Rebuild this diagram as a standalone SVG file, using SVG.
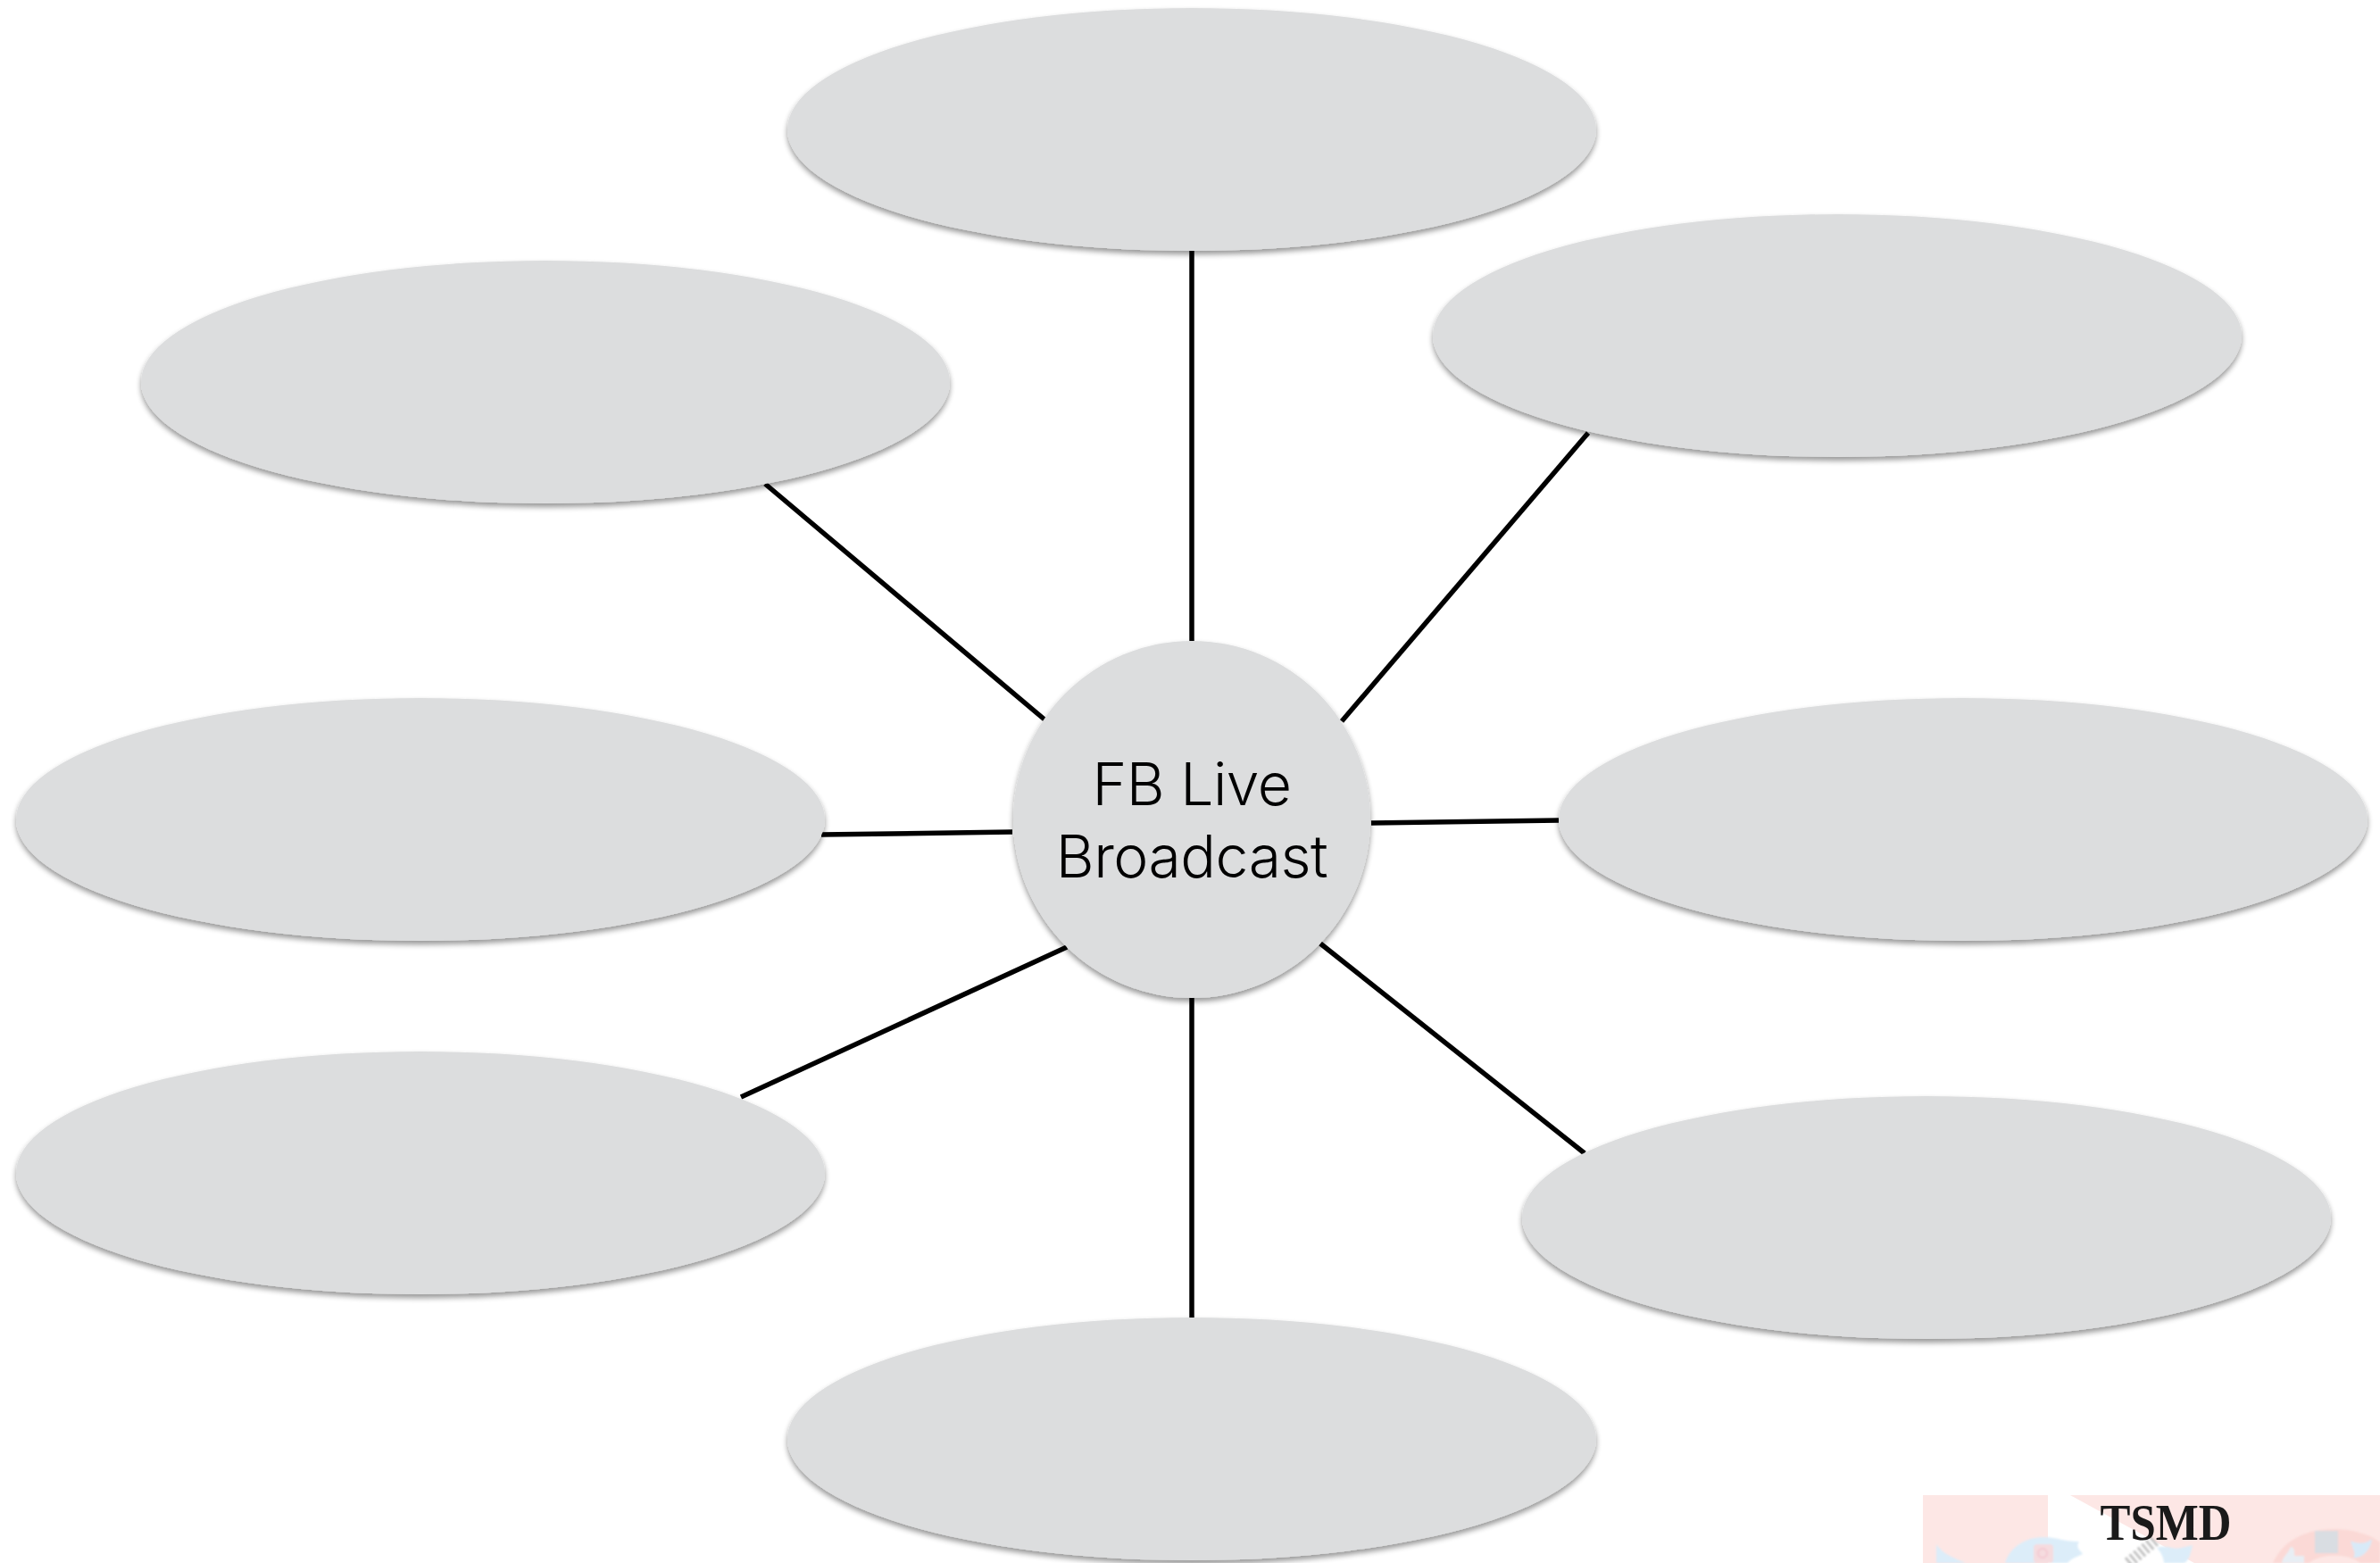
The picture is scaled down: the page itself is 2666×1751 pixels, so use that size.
<svg xmlns="http://www.w3.org/2000/svg" width="2666" height="1751" viewBox="0 0 2666 1751">
<defs>
<filter id="sh" x="-5%" y="-10%" width="110%" height="125%"><feGaussianBlur in="SourceAlpha" stdDeviation="3"/><feOffset dy="4"/><feComponentTransfer><feFuncA type="linear" slope="0.42"/></feComponentTransfer><feMerge><feMergeNode/><feMergeNode in="SourceGraphic"/></feMerge></filter>
<filter id="soft" x="-10%" y="-10%" width="120%" height="120%"><feGaussianBlur stdDeviation="1.2"/></filter>
<style>
.n{fill:#dcddde;filter:url(#sh)}
.c line{stroke:#000;stroke-width:5.5;fill:none}
.t{font-family:Inter,"Liberation Sans",sans-serif;font-weight:300;font-size:66px;letter-spacing:-0.5px;fill:#000;text-anchor:middle}
</style>
</defs>
<rect width="2666" height="1751" fill="#fff"/>
<g id="connectors" class="c">
<line x1="1335" y1="281" x2="1335" y2="718"/>
<line x1="1779" y1="485" x2="1503" y2="808"/>
<line x1="857" y1="542" x2="1170" y2="806"/>
<line x1="920" y1="935" x2="1134" y2="932"/>
<line x1="1536" y1="922" x2="1746" y2="919"/>
<line x1="1195" y1="1061" x2="830" y2="1229"/>
<line x1="1479" y1="1057" x2="1775" y2="1292"/>
<line x1="1335" y1="1117" x2="1335" y2="1476"/>
</g>
<g id="node-top"><ellipse class="n" cx="1335" cy="145" rx="453" ry="136"/></g>
<g id="node-top-right"><ellipse class="n" cx="2058" cy="376" rx="453" ry="136"/></g>
<g id="node-top-left"><ellipse class="n" cx="611" cy="428" rx="453" ry="136"/></g>
<g id="node-left"><ellipse class="n" cx="471" cy="918" rx="453" ry="136"/></g>
<g id="node-right"><ellipse class="n" cx="2199" cy="918" rx="453" ry="136"/></g>
<g id="node-lower-left"><ellipse class="n" cx="471" cy="1314" rx="453" ry="136"/></g>
<g id="node-lower-right"><ellipse class="n" cx="2158" cy="1364" rx="453" ry="136"/></g>
<g id="node-bottom"><ellipse class="n" cx="1335" cy="1612" rx="453" ry="136"/></g>
<g id="node-center"><circle class="n" cx="1335" cy="918" r="200"/>
<text class="t" x="1335" y="902">FB Live</text>
<text class="t" x="1335" y="983">Broadcast</text></g>
<g id="logo">
<rect x="2154" y="1675" width="512" height="76" fill="#fde7e5"/>
<path d="M2294 1675H2319L2458 1751H2294Z" fill="#fff"/>
<g filter="url(#soft)">
<path d="M2546 1751C2556 1728 2580 1713 2614 1713C2640 1713 2660 1722 2666 1728V1751Z" fill="#fbd9d6"/>
<path d="M2586 1751C2596 1744 2606 1742 2622 1743C2634 1744 2640 1748 2644 1751Z" fill="#fde7e5"/>
<rect x="2593" y="1715" width="26" height="25" fill="#d9dde2"/>
<path d="M2633 1726C2640 1730 2650 1730 2657 1724C2656 1736 2646 1746 2636 1745C2640 1740 2635 1735 2633 1726Z" fill="#d8eaf8"/>
<path d="M2556 1751C2557 1744 2562 1742 2566 1733C2571 1733 2570 1741 2570 1743H2581V1751Z" fill="#e8eef4"/>
<path d="M2169 1730C2176 1741 2190 1746 2202 1751H2169Z" fill="#dcedf9"/>
<path d="M2246 1751C2252 1732 2270 1722 2290 1722C2302 1722 2312 1727 2329 1727C2324 1735 2332 1738 2333 1741C2326 1744 2320 1746 2316 1751Z" fill="#dcedf9"/>
<rect x="2278" y="1730" width="22" height="21" rx="4" fill="#f5dcdf"/>
<circle cx="2288" cy="1740" r="5" fill="none" stroke="#f3c8d2" stroke-width="2"/>
<path d="M2416 1734C2428 1730 2436 1737 2443 1734L2456 1731C2454 1742 2450 1751 2446 1751H2424C2424 1745 2420 1738 2416 1734Z" fill="#dcedf9"/>
<path d="M2384 1751L2415 1725" stroke="#c4c4c4" stroke-width="13" fill="none" stroke-dasharray="3 3"/>
</g>
<text x="2426" y="1725" font-family="Liberation Serif,serif" font-weight="700" font-size="56" textLength="147" lengthAdjust="spacingAndGlyphs" fill="#1a1a1a" text-anchor="middle">TSMD</text>
</g>
</svg>
